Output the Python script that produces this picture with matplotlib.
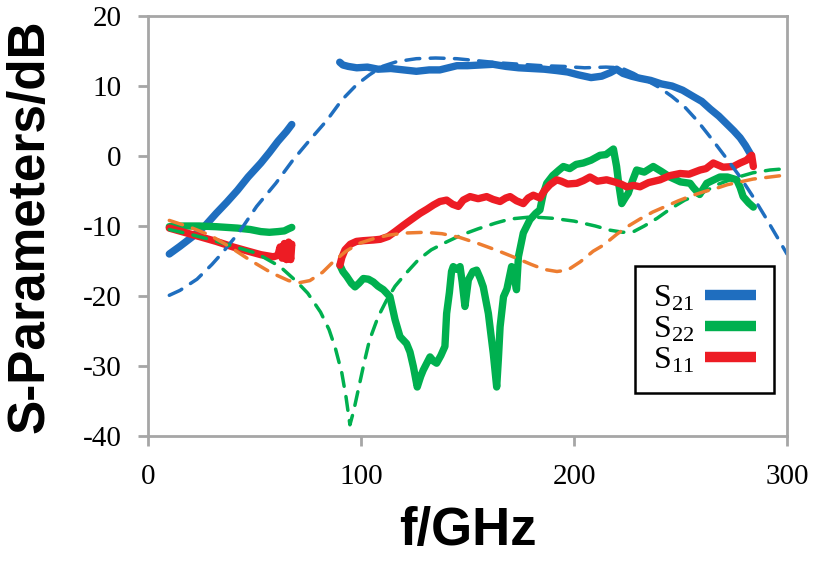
import matplotlib
matplotlib.use("Agg")
import matplotlib.pyplot as plt

# measured S21 (two bands)
s21_lo_f = [10, 15, 21, 27, 32, 37, 42, 47, 53, 57, 61, 65, 67.5]
s21_lo_db = [-14, -12.9, -11.5, -9.9, -8.2, -6.6, -4.9, -3.0, -1.0, 0.5, 2.1, 3.5, 4.5]
s21_hi_f = [90, 91.5, 94, 98, 103, 108, 114, 120, 126, 132, 137, 141, 145, 150, 156, 162,
            168, 174, 180, 186, 192, 197, 202, 208, 213, 217, 220, 223, 227, 231, 236, 241,
            246, 251, 256, 260, 264, 268, 272, 275, 278, 280.5, 283]
s21_hi_db = [13.4, 13.0, 12.8, 12.6, 12.7, 12.4, 12.5, 12.3, 12.1, 12.3, 12.3, 12.6, 12.9,
             12.9, 13.0, 13.1, 12.8, 12.6, 12.5, 12.4, 12.2, 12.0, 11.6, 11.2, 11.4, 11.9,
             12.4, 11.8, 11.4, 11.1, 10.8, 10.3, 10.0, 9.4, 8.5, 7.8, 6.7, 5.7, 4.5, 3.6,
             2.6, 1.5, 0.2]

# measured S22
s22_lo_f = [10, 17, 24, 32, 42, 48, 53, 57, 61, 64, 66, 67.5]
s22_lo_db = [-10.1, -10.0, -10.0, -10.1, -10.3, -10.5, -10.8, -10.9, -10.8, -10.7, -10.4, -10.2]
s22_hi_f = [90.1, 91.5, 93.3, 95.5, 97.2, 99, 101.1, 103.5, 105.8, 108, 110.5, 113.6, 116,
            118.3, 121.4, 123, 124.6, 126.4, 128, 129.2, 132.4, 134, 135.5, 137.5, 139.4,
            140.2, 141.5, 142.5, 143.3, 145, 146.5, 147.5, 148.8, 150.4, 152.5, 154.3, 156,
            157.4, 159.8, 161, 162.1, 163.7, 164.5, 165.3, 166.9, 168.5, 170.7, 172, 173,
            173.9, 176.2, 179.3, 182, 184, 185.5, 187.2, 190, 193, 195, 198, 201, 204.4, 208,
            212.2, 215, 218.5, 220, 221, 222.4, 224, 225.5, 227.5, 229.4, 233, 237.2, 241,
            245, 250, 254.5, 256, 259, 262.3, 265, 268.5, 272, 276.4, 278, 279.4, 282, 284.2]
s22_hi_db = [-15.6, -16.5, -17.2, -18.2, -18.7, -18.2, -17.5, -17.6, -18.0, -18.6, -19.1,
             -20.1, -23.4, -25.8, -26.8, -28.0, -30.1, -33.0, -31.5, -30.6, -28.7, -29.3,
             -29.6, -28.5, -27.2, -22.5, -19.5, -16.5, -15.8, -16.2, -15.8, -18.0, -21.5,
             -17.7, -16.5, -16.3, -17.5, -18.7, -22.5, -25.5, -28.2, -33.0, -29.0, -24.4,
             -20.1, -19.0, -15.8, -17.5, -19.1, -14.4, -11.0, -9.1, -8.2, -7.7, -5.5, -3.9,
             -2.8, -2.0, -1.5, -1.8, -1.2, -1.0, -0.6, 0.1, 0.2, 1.0, -1.5, -4.0, -6.8, -6.0,
             -5.3, -3.5, -2.0, -2.3, -1.5, -2.2, -3.0, -3.7, -3.9, -4.5, -5.5, -3.9, -3.5,
             -3.0, -3.0, -3.4, -4.5, -5.8, -6.7, -7.3]

# measured S11
s11_lo_f = [10, 17, 24, 32, 40, 47, 53, 58.8, 61, 62, 63, 64, 65, 66, 67, 67.5, 66.5, 65.5,
            64.5, 63.5]
s11_lo_db = [-10.3, -10.9, -11.5, -12.2, -13.0, -13.6, -14.1, -14.4, -14.2, -13.0, -14.6,
             -12.5, -14.8, -12.3, -14.8, -12.6, -13.6, -13.2, -13.8, -13.4]
s11_hi_f = [90.1, 91, 92.5, 95, 97.9, 101, 105.8, 109, 112.8, 116, 119.9, 124, 127.7, 131,
            134, 137, 140.2, 143, 145.7, 148, 151.2, 155, 159, 162, 165.3, 168, 170, 173,
            176.2, 178.5, 180.9, 184, 186, 188.7, 191.9, 194, 197, 201.3, 204.5, 207.5, 211,
            215.3, 219, 222, 224.7, 228, 231, 235, 240.4, 245, 249.8, 254, 259.2, 262, 265.4,
            270, 274.8, 278, 281, 283.4, 284.2]
s11_hi_db = [-15.6, -14.5, -13.4, -12.6, -12.2, -12.1, -12.0, -11.9, -11.5, -10.8, -9.9,
             -9.0, -8.2, -7.6, -7.0, -6.5, -6.3, -6.9, -7.2, -6.3, -5.8, -6.1, -5.8, -6.2,
             -6.5, -6.0, -5.8, -6.4, -6.8, -6.0, -5.6, -6.0, -5.0, -4.1, -3.4, -3.6, -4.0,
             -3.9, -3.5, -3.0, -3.6, -3.4, -3.7, -4.0, -4.4, -4.2, -4.4, -3.8, -3.4, -2.8,
             -2.5, -2.6, -2.0, -1.8, -1.0, -1.6, -1.5, -1.0, -0.6, 0.1, -1.5]

# simulated (dashed)
sim21_f = [10, 15, 23, 30, 35, 43, 51, 60, 68, 76, 84, 91, 98, 104, 110, 117, 126, 135, 145,
           155, 165, 175, 185, 195, 205, 215, 222, 228, 234, 240, 246, 252, 258, 265, 272,
           278, 284, 290, 296, 300]
sim21_db = [-19.9, -19.2, -17.6, -15.5, -13.8, -10.8, -7.2, -3.9, -0.6, 2.3, 5.1, 8.0, 10.2,
            11.6, 12.8, 13.5, 13.9, 14.0, 13.9, 13.6, 13.3, 13.1, 12.9, 12.8, 12.6, 12.7,
            12.6, 11.8, 10.8, 9.8, 8.5, 7.0, 5.0, 2.3, -0.5, -3.0, -5.8, -8.8, -11.9, -14.0]
sim22_f = [10, 20, 30, 40, 51, 62, 70, 75, 81, 85, 88, 91, 93, 94.8, 96.5, 99, 101.5, 104,
           108, 112, 116, 121, 127, 133, 140, 147, 155, 163, 170, 180, 190, 200, 210, 217,
           223, 228, 233, 239, 245, 252, 260, 268, 276, 284, 292, 300]
sim22_db = [-10.5, -11.2, -12.0, -12.9, -13.9, -15.8, -18.0, -19.6, -22.3, -24.8, -27.5,
            -31.0, -34.5, -38.4, -36.5, -33.0, -29.5, -26.3, -23.0, -20.6, -18.6, -16.8,
            -14.8, -13.4, -12.3, -11.3, -10.4, -9.6, -9.0, -8.7, -8.9, -9.3, -10.0, -10.6,
            -10.9, -10.8, -10.0, -8.9, -7.6, -6.3, -5.3, -4.0, -3.1, -2.4, -2.0, -1.8]
sim11_f = [10, 20, 29, 38, 48, 58, 66, 71, 76, 82, 87, 93, 99, 106, 113, 121, 130, 138, 146,
           155, 164, 173, 180, 186, 192, 197, 203, 209, 214, 220, 225, 231, 237, 243, 249,
           255, 261, 267, 272, 278, 284, 292, 300]
sim11_db = [-9.2, -10.2, -11.3, -12.9, -14.9, -16.7, -17.8, -18.1, -17.8, -16.6, -15.1,
            -13.6, -12.5, -11.8, -11.3, -11.0, -10.9, -11.1, -11.6, -12.5, -13.5, -14.6,
            -15.5, -16.2, -16.5, -16.3, -15.1, -13.6, -12.7, -11.2, -10.1, -9.0, -8.0, -7.2,
            -6.4, -5.7, -5.1, -4.6, -4.1, -3.7, -3.3, -3.0, -2.7]

xticks = [0, 100, 200, 300]
yticks = [20, 10, 0, -10, -20, -30, -40]
labels = ["S$_{21}$", "S$_{22}$", "S$_{11}$"]

blue = "#1f6ebf"
green = "#00b04f"
red = "#ed1c24"
orange = "#ed7d31"
grey = "#a6a6a6"

plt.rcParams["mathtext.fontset"] = "custom"
plt.rcParams["mathtext.rm"] = "Liberation Serif"
plt.rcParams["mathtext.it"] = "Liberation Serif"
plt.rcParams["mathtext.default"] = "regular"

fig = plt.figure(figsize=(8.17, 5.63), dpi=100)
ax = fig.add_axes([148 / 817, 1 - 436 / 563, (787 - 148) / 817, (436 - 16) / 563])

lw = 5.3
ax.plot(s21_lo_f, s21_lo_db, color=blue, lw=lw, solid_capstyle="round", label=labels[0])
ax.plot(s21_hi_f, s21_hi_db, color=blue, lw=lw, solid_capstyle="round")
ax.plot(s22_lo_f, s22_lo_db, color=green, lw=lw, solid_capstyle="round", label=labels[1])
ax.plot(s22_hi_f, s22_hi_db, color=green, lw=lw, solid_capstyle="round")
ax.plot(s11_lo_f, s11_lo_db, color=red, lw=lw, solid_capstyle="round",
        solid_joinstyle="round", label=labels[2])
ax.plot(s11_hi_f, s11_hi_db, color=red, lw=lw, solid_capstyle="round")

dash = (0, (4.0, 3.0))
ax.plot(sim21_f, sim21_db, color=blue, lw=2.5, ls=dash, dash_capstyle="round")
ax.plot(sim22_f, sim22_db, color=green, lw=2.5, ls=dash, dash_capstyle="round")
ax.plot(sim11_f, sim11_db, color=orange, lw=2.5, ls=dash, dash_capstyle="round")

ax.set_xlim(0, 300)
ax.set_ylim(-40, 20)
ax.set_xticks(xticks)
ax.set_yticks(yticks)
ax.set_xticklabels([str(t) for t in xticks], family="Liberation Serif", fontsize=21)
ax.set_yticklabels([str(t) for t in yticks], family="Liberation Serif", fontsize=21)
ax.tick_params(axis="x", direction="out", length=7, width=2, color=grey, pad=13.5)
ax.tick_params(axis="y", direction="out", length=7, width=2, color=grey, pad=12)
for s in ax.spines.values():
    s.set_color(grey)
    s.set_linewidth(2)

ax.set_xlabel("f/GHz", family="Liberation Sans", fontweight="bold", fontsize=38, labelpad=11)
ax.set_ylabel("S-Parameters/dB", family="Liberation Sans", fontweight="bold", fontsize=37,
              labelpad=20)

leg = ax.legend(loc="upper right", bbox_to_anchor=(0.9797, 0.4048), markerfirst=False,
                fancybox=False, edgecolor="black", framealpha=1,
                prop={"family": "Liberation Serif", "size": 23},
                handlelength=1.6, handletextpad=0.35, labelspacing=0.05, borderpad=0.55,
                borderaxespad=0)
leg.get_frame().set_linewidth(1.8)
for ln in leg.get_lines():
    ln.set_linewidth(7.5)
    ln.set_solid_capstyle("butt")

fig.savefig("out.png", dpi=100)
